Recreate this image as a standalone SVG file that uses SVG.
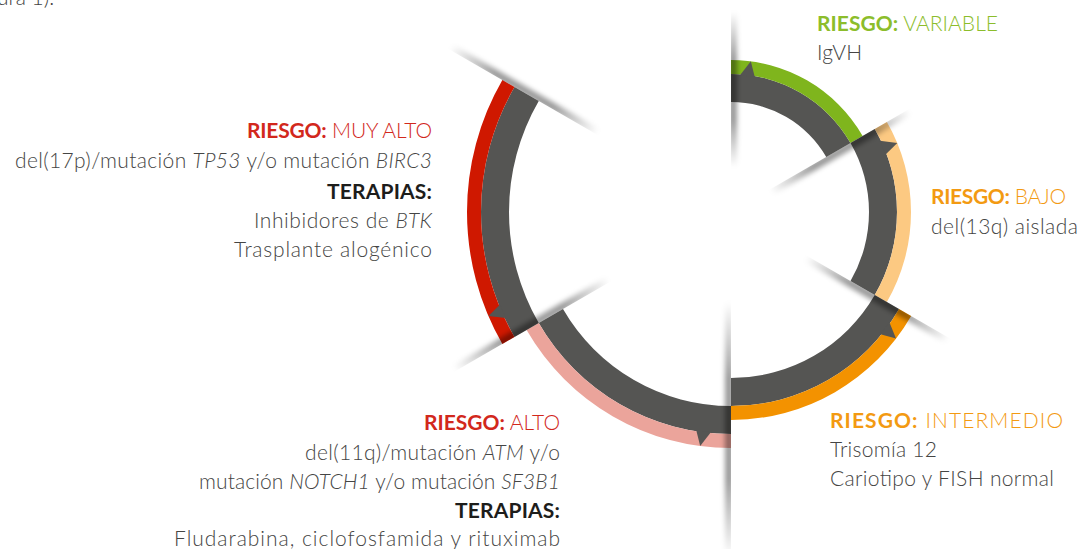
<svg xmlns="http://www.w3.org/2000/svg" width="1082" height="549" viewBox="0 0 1082 549">
<defs>
<style>
.t{font-family:Lato,"Open Sans","Liberation Sans",sans-serif;font-size:21px;font-weight:300;fill:#454544}
.b{font-weight:700}
.i{font-style:italic}
.th{font-weight:700;fill:#1d1d1b}
.gray{fill:#555553}
.cg{fill:#7fb51d}
.cp{fill:#fcc982}
.co{fill:#f39200}
.ck{fill:#eba49b}
.cr{fill:#cf1800}
.tg{fill:#8cbd2b}
.to{fill:#f39a12}
.tr{fill:#d2281c}
.sh{fill:url(#shg)}
</style>
<linearGradient id="shg" x1="0" y1="0" x2="0" y2="1">
<stop offset="0" stop-color="#000" stop-opacity="0"/>
<stop offset="0.3" stop-color="#000" stop-opacity="0.4"/>
<stop offset="0.7" stop-color="#000" stop-opacity="0.4"/>
<stop offset="1" stop-color="#000" stop-opacity="0"/>
</linearGradient>
<filter id="blur" x="-300%" y="-10%" width="700%" height="120%">
<feGaussianBlur stdDeviation="2.8"/>
</filter>
<clipPath id="cw" clipPathUnits="userSpaceOnUse">
<rect x="731" y="-200" width="40" height="600"/>
</clipPath>
</defs>
<rect x="0" y="0" width="1082" height="549" fill="#ffffff"/>

<text class="t" x="-3" y="5">ura 1).</text>

<g id="segments">
<g id="seg-variable">
<path class="gray" d="M731,74 A138,138 0 0 1 850.51,143 L826.26,157 A110,110 0 0 0 731,102 Z"/>
<path class="cg" d="M731,60 A152,152 0 0 1 862.63,136 L850.51,143 A138,138 0 0 0 731,74 Z"/>
<polygon class="gray" points="739.98,75.29 750.84,61.3 754.77,77.08"/>
</g>
<g id="seg-bajo" transform="rotate(60 731 212)">
<path class="gray" d="M731,46 A166,166 0 0 1 874.76,129 L850.51,143 A138,138 0 0 0 731,74 Z"/>
<path class="cp" d="M731,32 A180,180 0 0 1 886.88,122 L874.76,129 A166,166 0 0 0 731,46 Z"/>
<polygon class="gray" points="743.63,47.48 754.5,33.54 758.43,49.3"/>
</g>
<g id="seg-intermedio" transform="rotate(120 731 212)">
<path class="gray" d="M731,18 A194,194 0 0 1 899,115 L874.76,129 A166,166 0 0 0 731,46 Z"/>
<path class="co" d="M731,4 A208,208 0 0 1 911.13,108 L899,115 A194,194 0 0 0 731,18 Z"/>
<polygon class="gray" points="747.28,19.69 758.15,5.78 762.09,21.52"/>
</g>
<g id="seg-alto" transform="rotate(180 731 212)">
<path class="gray" d="M731,-10 A222,222 0 0 1 923.25,101 L899,115 A194,194 0 0 0 731,18 Z"/>
<path class="ck" d="M731,-24 A236,236 0 0 1 935.38,94 L923.25,101 A222,222 0 0 0 731,-10 Z"/>
<polygon class="gray" points="750.95,-8.1 761.8,-21.98 765.76,-6.25"/>
</g>
<g id="seg-muyalto" transform="rotate(240 731 212)">
<path class="gray" d="M731,-38 A250,250 0 0 1 947.5,87 L923.25,101 A222,222 0 0 0 731,-10 Z"/>
<path class="cr" d="M731,-52 A264,264 0 0 1 959.63,80 L947.5,87 A250,250 0 0 0 731,-38 Z"/>
<polygon class="gray" points="751.8,-35.9 762.2,-50 766.4,-34.3"/>
</g>
</g>

<g id="connectors">
<g transform="rotate(0 731 212)"><rect class="sh" x="729" y="12" width="8" height="155" clip-path="url(#cw)" filter="url(#blur)"/></g>
<g transform="rotate(60 731 212)"><rect class="sh" x="729" y="7" width="8" height="160" clip-path="url(#cw)" filter="url(#blur)"/></g>
<g transform="rotate(120 731 212)"><rect class="sh" x="729" y="-40" width="8" height="164" clip-path="url(#cw)" filter="url(#blur)"/></g>
<g transform="rotate(180 731 212)"><rect class="sh" x="729" y="-133" width="8" height="255" clip-path="url(#cw)" filter="url(#blur)"/></g>
<g transform="rotate(240 731 212)"><rect class="sh" x="729" y="-106" width="8" height="178" clip-path="url(#cw)" filter="url(#blur)"/></g>
<g transform="rotate(300 731 212)"><rect class="sh" x="729" y="-113" width="8" height="170" clip-path="url(#cw)" filter="url(#blur)"/></g>
</g>

<g id="label-variable">
<text class="t" x="817" y="31" textLength="181" lengthAdjust="spacing"><tspan class="b tg">RIESGO:</tspan><tspan class="tg"> VARIABLE</tspan></text>
<text class="t" x="817" y="60" textLength="45" lengthAdjust="spacing">IgVH</text>
</g>
<g id="label-bajo">
<text class="t" x="931" y="204" textLength="135" lengthAdjust="spacing"><tspan class="b to">RIESGO:</tspan><tspan class="to"> BAJO</tspan></text>
<text class="t" x="931" y="234" textLength="147" lengthAdjust="spacing">del(13q) aislada</text>
</g>
<g id="label-intermedio">
<text class="t" x="830" y="428" textLength="233" lengthAdjust="spacing"><tspan class="b to">RIESGO:</tspan><tspan class="to"> INTERMEDIO</tspan></text>
<text class="t" x="830" y="457" textLength="107" lengthAdjust="spacing">Trisomía 12</text>
<text class="t" x="830" y="486" textLength="224" lengthAdjust="spacing">Cariotipo y FISH normal</text>
</g>
<g id="label-alto" text-anchor="end">
<text class="t" x="560" y="430" textLength="136" lengthAdjust="spacing"><tspan class="b tr">RIESGO:</tspan><tspan class="tr"> ALTO</tspan></text>
<text class="t" x="560" y="460" textLength="255" lengthAdjust="spacing">del(11q)/mutación <tspan class="i">ATM</tspan> y/o</text>
<text class="t" x="560" y="489" textLength="361" lengthAdjust="spacing">mutación <tspan class="i">NOTCH1</tspan> y/o mutación <tspan class="i">SF3B1</tspan></text>
<text class="t th" x="560" y="518" textLength="105" lengthAdjust="spacing">TERAPIAS:</text>
<text class="t" x="560" y="546" textLength="386" lengthAdjust="spacing">Fludarabina, ciclofosfamida y rituximab</text>
</g>
<g id="label-muyalto" text-anchor="end">
<text class="t" x="432" y="138" textLength="185" lengthAdjust="spacing"><tspan class="b tr">RIESGO:</tspan><tspan class="tr"> MUY ALTO</tspan></text>
<text class="t" x="432" y="168" textLength="417" lengthAdjust="spacing">del(17p)/mutación <tspan class="i">TP53</tspan> y/o mutación <tspan class="i">BIRC3</tspan></text>
<text class="t th" x="432" y="199" textLength="105" lengthAdjust="spacing">TERAPIAS:</text>
<text class="t" x="432" y="228" textLength="178" lengthAdjust="spacing">Inhibidores de <tspan class="i">BTK</tspan></text>
<text class="t" x="432" y="257" textLength="198" lengthAdjust="spacing">Trasplante alogénico</text>
</g>
</svg>
